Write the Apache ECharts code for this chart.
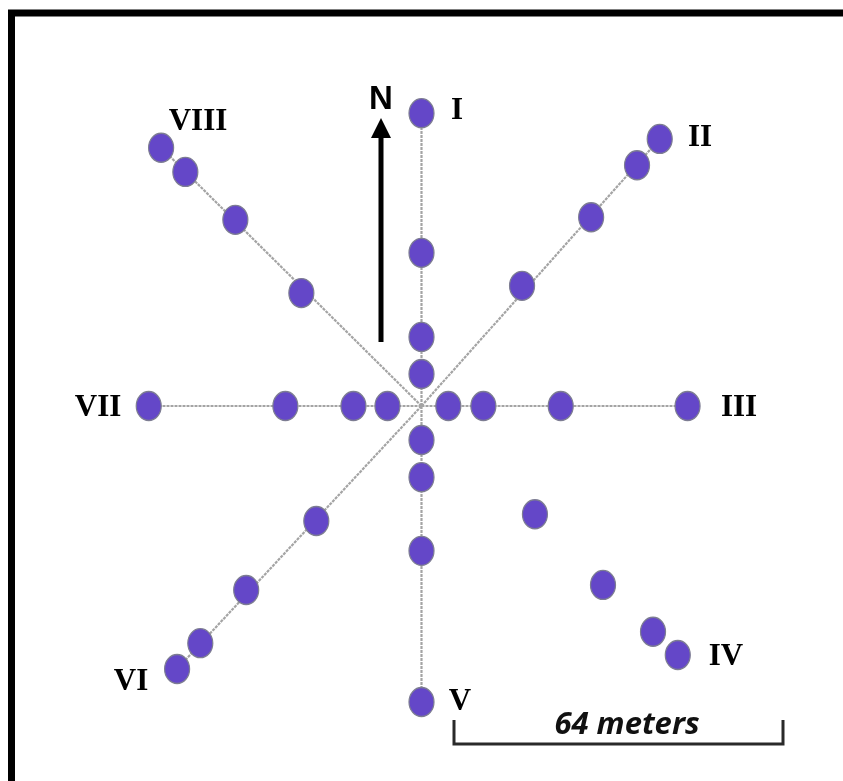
<!DOCTYPE html>
<html>
<head>
<meta charset="utf-8">
<script src="https://cdn.jsdelivr.net/npm/echarts@6/dist/echarts.min.js"></script>
<style>
html,body{margin:0;padding:0;background:#fff;}
#chart{width:843px;height:781px;}
</style>
</head>
<body>
<div id="chart"></div>
<script>
// Sampling points, metres east (x) / north (y) of the plot centre
const armI    = [[0, 6.2], [0, 13.4], [0, 29.7], [0, 56.8]];
const armII   = [[19.5, 23.3], [32.9, 36.6], [41.8, 46.7], [46.2, 51.8]];
const armIII  = [[5.2, 0], [12.0, 0], [27.0, 0], [51.6, 0]];
const armIV   = [[22.0, -21.0], [35.2, -34.7], [44.9, -43.8], [49.7, -48.3]];
const armV    = [[0, -6.6], [0, -13.8], [0, -28.1], [0, -57.4]];
const armVI   = [[-20.4, -22.3], [-34.0, -35.7], [-42.9, -46.0], [-47.4, -51.0]];
const armVII  = [[-6.6, 0], [-13.2, 0], [-26.4, 0], [-52.9, 0]];
const armVIII = [[-23.3, 21.9], [-36.1, 36.1], [-45.8, 45.4], [-50.5, 50.1]];
const armNames = ['I', 'II', 'III', 'IV', 'V', 'VI', 'VII', 'VIII'];
const armsWithTransect = ['I', 'II', 'III', 'V', 'VI', 'VII', 'VIII'];
const scaleLabel = '64 meters';
const northLabel = 'N';

const arms = {I: armI, II: armII, III: armIII, IV: armIV, V: armV, VI: armVI, VII: armVII, VIII: armVIII};

const chart = echarts.init(document.getElementById('chart'), null, {renderer: 'canvas'});

const lineSeries = armsWithTransect.map(n => ({
  type: 'line',
  name: n + ' transect',
  data: [[0, 0], arms[n][arms[n].length - 1]],
  showSymbol: false,
  symbol: 'none',
  silent: true,
  z: 1,
  lineStyle: {color: '#a4a4a4', width: 2.2, type: [3, 1]}
}));

const pointSeries = armNames.map(n => ({
  type: 'scatter',
  name: n,
  data: arms[n],
  symbol: 'circle',
  symbolSize: [25, 29],
  z: 3,
  itemStyle: {color: '#6447c8', opacity: 1, borderColor: '#7d7d92', borderWidth: 1.3}
}));

const serif = '"Liberation Serif", "DejaVu Serif", serif';
function roman(text, x, y) {
  return {type: 'text', x: x, y: y, z: 10,
    style: {text: text, font: 'bold 31px ' + serif, fill: '#000', textAlign: 'center', textVerticalAlign: 'middle'}};
}

chart.setOption({
  animation: false,
  backgroundColor: '#fff',
  grid: {left: 9, top: 19.3, width: 825, height: 747.6},
  xAxis: {type: 'value', min: -80, max: 80, show: false},
  yAxis: {type: 'value', min: -70, max: 75, show: false},
  series: lineSeries.concat(pointSeries),
  graphic: [
    {type: 'rect', shape: {x: 11.5, y: 13, width: 900, height: 900}, z: 20,
      style: {fill: 'none', stroke: '#000', lineWidth: 7}},
    roman('I', 457, 111),
    roman('II', 700, 138),
    roman('III', 739, 408),
    roman('IV', 726, 657),
    roman('V', 460, 702),
    roman('VI', 131, 682),
    roman('VII', 98, 408),
    roman('VIII', 198, 122),
    {type: 'text', x: 381, y: 100, z: 10,
      style: {text: northLabel, font: 'bold 33px "Liberation Sans", Arial, sans-serif', fill: '#000', textAlign: 'center', textVerticalAlign: 'middle'}},
    {type: 'line', shape: {x1: 381, y1: 342, x2: 381, y2: 134}, z: 10,
      style: {stroke: '#000', lineWidth: 5}},
    {type: 'polygon', shape: {points: [[371, 138], [391, 138], [381, 118]]}, z: 10,
      style: {fill: '#000'}},
    {type: 'polyline', shape: {points: [[454, 720], [454, 744], [783, 744], [783, 720]]}, z: 10,
      style: {stroke: '#2a2a2a', lineWidth: 3, fill: 'none'}},
    {type: 'text', x: 627, y: 725, z: 10,
      style: {text: scaleLabel, font: 'italic bold 31px "Open Sans", "Liberation Sans", sans-serif', fill: '#111', textAlign: 'center', textVerticalAlign: 'middle'}}
  ]
});
</script>
</body>
</html>
